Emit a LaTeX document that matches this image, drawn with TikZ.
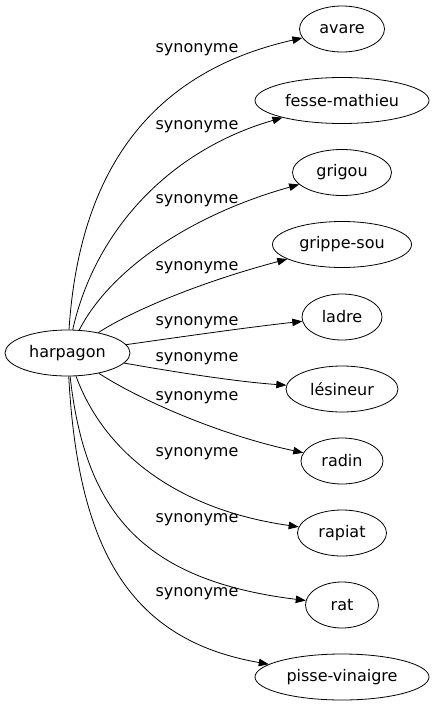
\documentclass[tikz,border=0pt]{standalone}
\usepackage{fontspec}
\setmainfont{DejaVu Sans}
\usetikzlibrary{arrows.meta,shapes.geometric}
\tikzset{
  term/.style={ellipse,draw,line width=0.8pt,inner sep=0pt,minimum height=46pt,font=\fontsize{16pt}{18pt}\selectfont},
  rel/.style={font=\fontsize{16pt}{18pt}\selectfont,inner sep=0pt},
  link/.style={line width=0.8pt,-{Triangle[length=10pt,width=7.5pt]}}
}
\begin{document}
\begin{tikzpicture}[x=1pt,y=-1pt]
\useasboundingbox (0,0) rectangle (435,707);
\node[term,minimum width=125pt] (h) at (67.5,353) {harpagon};
\node[term,minimum width=85pt]  (t1) at (342,29) {avare};
\node[term,minimum width=174pt] (t2) at (342,100.5) {fesse-mathieu};
\node[term,minimum width=99pt]  (t3) at (342,172.5) {grigou};
\node[term,minimum width=139pt] (t4) at (342,244.5) {grippe-sou};
\node[term,minimum width=80pt]  (t5) at (342,317) {ladre};
\node[term,minimum width=112pt] (t6) at (342,389) {lésineur};
\node[term,minimum width=82pt]  (t7) at (342,461) {radin};
\node[term,minimum width=89pt]  (t8) at (342,533) {rapiat};
\node[term,minimum width=73pt]  (t9) at (342,605) {rat};
\node[term,minimum width=174pt] (t10) at (342,677) {pisse-vinaigre};

\node[rel] (l1) at (197,49.5) {synonyme};
\node[rel] (l2) at (197,126.5) {synonyme};
\node[rel] (l3) at (197,200.5) {synonyme};
\node[rel] (l4) at (197,267.5) {synonyme};
\node[rel] (l5) at (197,322.5) {synonyme};
\node[rel] (l6) at (197,358.5) {synonyme};
\node[rel] (l7) at (197,397.5) {synonyme};
\node[rel] (l8) at (197,453.5) {synonyme};
\node[rel] (l9) at (197,519.5) {synonyme};
\node[rel] (l10) at (197,593.5) {synonyme};

\draw[link] (h) .. controls (80,160) and (160,70) .. (t1);
\draw[link] (h) .. controls (95,230) and (170,150) .. (t2);
\draw[link] (h) .. controls (110,270) and (190,215) .. (t3);
\draw[link] (h) .. controls (125,315) and (190,285) .. (t4);
\draw[link] (h) .. controls (180,337) and (250,327) .. (t5);
\draw[link] (h) .. controls (180,373) and (240,382) .. (t6);
\draw[link] (h) .. controls (140,400) and (220,435) .. (t7);
\draw[link] (h) .. controls (105,455) and (180,510) .. (t8);
\draw[link] (h) .. controls (85,510) and (140,580) .. (t9);
\draw[link] (h) .. controls (78,550) and (130,640) .. (t10);
\end{tikzpicture}
\end{document}
